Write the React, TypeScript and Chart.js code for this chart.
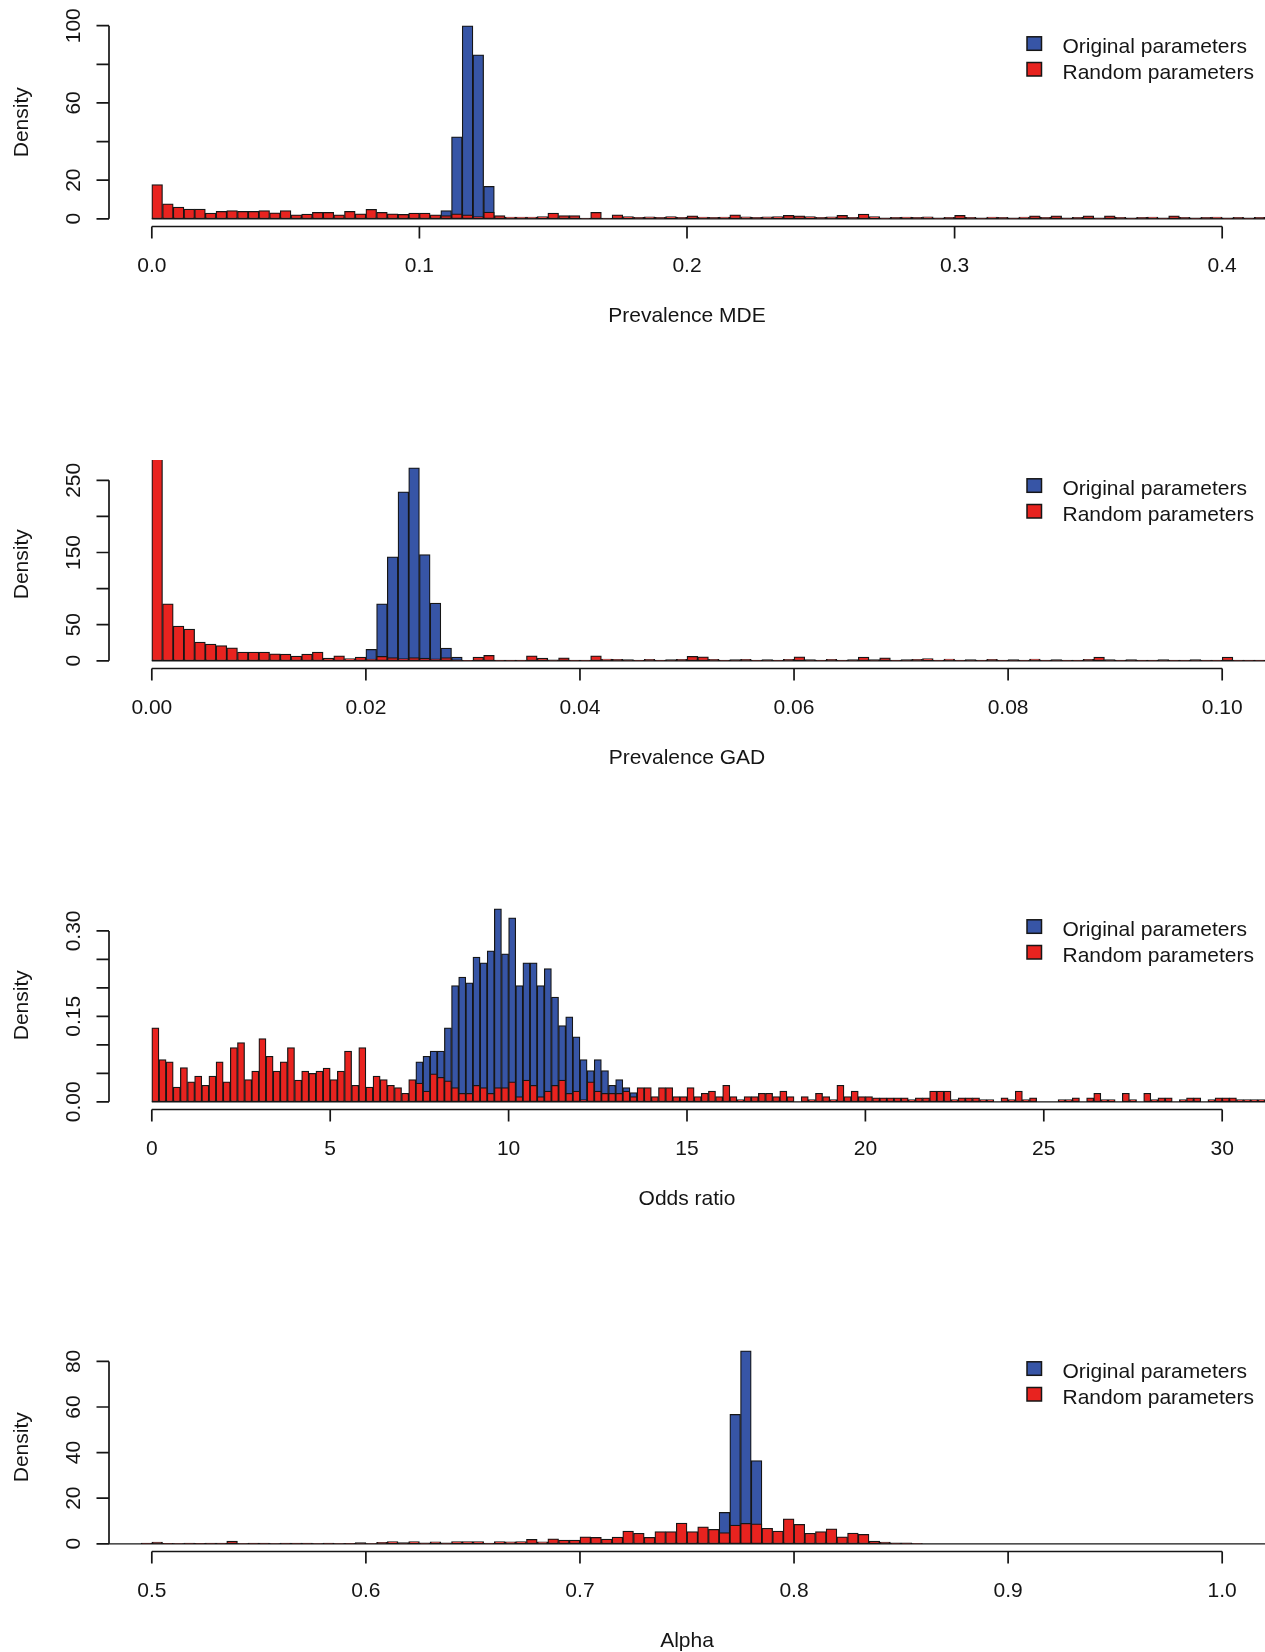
import { useEffect, useRef } from 'react'
import { Chart, BarController, BarElement, LinearScale } from 'chart.js'

Chart.register(BarController, BarElement, LinearScale)

const FONT = '"Liberation Sans", Arial, Helvetica, sans-serif'
const BLUE = '#3755a6'
const RED = '#e8231f'
const EDGE = '#161616'
const INK = '#151515'

const seriesLabels = ['Original parameters', 'Random parameters']

// --- Prevalence MDE (bins of 0.004 from 0) ---
const mdeBinStart = 0
const mdeBinWidth = 0.004
const mdeRandom = [
  17.7, 7.8, 6.1, 5.0, 5.0, 2.9, 3.8, 4.2, 3.8, 3.8, 4.2, 3.1, 4.2, 2.1, 2.4, 3.3, 3.3, 2.1, 3.8, 2.6,
  4.9, 3.3, 2.6, 2.3, 2.9, 2.9, 2.1, 1.7, 2.6, 2.1, 1.2, 3.5, 1.7, 0.9, 0.9, 0.9, 1.2, 2.9, 1.7, 1.7,
  0.3, 3.3, 0.3, 2.1, 1.2, 0.7, 1.0, 0.7, 1.2, 0.7, 1.5, 0.9, 0.7, 0.9, 2.0, 1.0, 0.7, 1.0, 1.2, 1.8,
  1.5, 1.2, 0.7, 1.0, 1.8, 0.7, 2.4, 1.2, 0.5, 0.7, 0.9, 0.7, 1.0, 0.5, 0.7, 1.8, 0.7, 0.5, 0.9, 0.7,
  0.5, 0.9, 1.5, 0.7, 1.5, 0.5, 0.7, 1.5, 0.5, 1.5, 0.7, 0.5, 0.7, 0.9, 0.5, 1.5, 0.7, 0.5, 0.7, 0.9,
  0.5, 0.7, 0.5, 0.7, 0.5,
]
const mdeOriginalFirstBin = 27
const mdeOriginal = [4.3, 42.5, 100, 84.9, 16.8]
const mdeXTicks = [0, 0.1, 0.2, 0.3, 0.4]
const mdeXLabels = ['0.0', '0.1', '0.2', '0.3', '0.4']
const mdeYTicks = [0, 20, 40, 60, 80, 100]
const mdeYLabels = ['0', '20', '', '60', '', '100']

// --- Prevalence GAD (bins of 0.001 from 0) ---
const gadBinStart = 0
const gadBinWidth = 0.001
const gadRandom = [
  290, 79, 48, 44, 26, 23, 21, 18, 12, 12, 12, 9.7, 9.3, 6.5, 9.3, 12, 3.7, 7, 3.2, 5,
  2.3, 6, 4.6, 3.2, 4.6, 3.7, 2.8, 4.6, 1.4, 0.5, 5, 7.4, 1, 1, 1, 7, 3.7, 1.4, 4.2, 1,
  1, 7, 2.3, 2, 1.5, 1, 2, 1, 1.5, 2, 6, 5.5, 2, 1, 1.5, 2, 1, 1.5, 1, 2,
  5.5, 1.5, 1, 2, 1, 1.5, 5, 1.5, 4, 1, 1.5, 2, 3, 1, 2.5, 1, 1.5, 1, 2, 1,
  1.5, 1, 2.5, 1, 1.5, 1, 1, 2, 5, 1.5, 1, 1.5, 1, 1, 1.5, 1, 1, 1.5, 1, 1,
  5, 1, 1, 1,
]
const gadOriginalFirstBin = 20
const gadOriginal = [15.7, 79, 144, 234, 267.5, 147, 80, 17.6, 5]
const gadXTicks = [0, 0.02, 0.04, 0.06, 0.08, 0.1]
const gadXLabels = ['0.00', '0.02', '0.04', '0.06', '0.08', '0.10']
const gadYTicks = [0, 50, 100, 150, 200, 250]
const gadYLabels = ['0', '50', '', '150', '', '250']

// --- Odds ratio (bins of 0.2 from 0) ---
const oddsBinStart = 0
const oddsBinWidth = 0.2
const oddsRandom = [
  0.130, 0.074, 0.070, 0.026, 0.060, 0.035, 0.045, 0.029, 0.045, 0.070, 0.035, 0.095, 0.104, 0.039, 0.054,
  0.111, 0.080, 0.054, 0.070, 0.095, 0.038, 0.054, 0.050, 0.054, 0.059, 0.039, 0.054, 0.089, 0.029, 0.095,
  0.026, 0.045, 0.039, 0.029, 0.025, 0.015, 0.039, 0.033, 0.019, 0.049, 0.043, 0.037, 0.025, 0.015, 0.015,
  0.029, 0.025, 0.015, 0.025, 0.025, 0.035, 0.009, 0.038, 0.029, 0.009, 0.019, 0.029, 0.038, 0.015, 0.019,
  0.004, 0.035, 0.019, 0.015, 0.015, 0.015, 0.019, 0.009, 0.025, 0.025, 0.009, 0.025, 0.025, 0.009, 0.009,
  0.025, 0.009, 0.015, 0.019, 0.009, 0.029, 0.009, 0.004, 0.009, 0.009, 0.015, 0.015, 0.009, 0.019, 0.009,
  0, 0.009, 0.004, 0.015, 0.009, 0.004, 0.029, 0.009, 0.019, 0.009, 0.009, 0.007, 0.007, 0.007, 0.007,
  0.007, 0.004, 0.007, 0.007, 0.019, 0.019, 0.019, 0.004, 0.007, 0.007, 0.007, 0.004, 0.004, 0, 0.007,
  0.004, 0.019, 0.004, 0.007, 0, 0, 0, 0.004, 0.004, 0.007, 0, 0.007, 0.015, 0.004, 0.004,
  0, 0.015, 0.004, 0, 0.015, 0.004, 0.007, 0.007, 0, 0.004, 0.007, 0.007, 0, 0.004, 0.007,
  0.007, 0.007, 0.004, 0.004, 0.004, 0.004,
]
const oddsOriginalFirstBin = 37
const oddsOriginal = [
  0.070, 0.080, 0.089, 0.089, 0.130, 0.204, 0.219, 0.209, 0.254, 0.244, 0.265, 0.339, 0.260, 0.323, 0.204,
  0.244, 0.244, 0.204, 0.234, 0.184, 0.134, 0.149, 0.114, 0.074, 0.055, 0.074, 0.055, 0.029, 0.039, 0.025,
  0.016,
]
const oddsXTicks = [0, 5, 10, 15, 20, 25, 30]
const oddsXLabels = ['0', '5', '10', '15', '20', '25', '30']
const oddsYTicks = [0, 0.05, 0.1, 0.15, 0.2, 0.25, 0.3]
const oddsYLabels = ['0.00', '', '', '0.15', '', '', '0.30']

// --- Alpha (bins of 0.005 from 0.48) ---
const alphaBinStart = 0.48
const alphaBinWidth = 0.005
const alphaRandom = [
  0, 0, 0, 0.3, 0.7, 0.2, 0.1, 0.3, 0.2, 0.3, 0.3, 1.2, 0.1, 0.3, 0.3, 0.1, 0.3, 0.3, 0.3, 0.1,
  0.3, 0.1, 0.2, 0.5, 0.1, 0.6, 1.0, 0.5, 1.0, 0.4, 0.9, 0.4, 1.0, 1.0, 1.0, 0.3, 1.0, 0.8, 1.0, 1.9,
  0.8, 2.2, 1.6, 1.6, 3.0, 2.8, 2.1, 2.9, 5.6, 4.6, 2.8, 5.4, 5.4, 9.1, 5.3, 7.4, 6.3, 4.9, 8.2, 9.0,
  8.8, 6.8, 5.6, 10.9, 8.5, 4.6, 5.4, 6.6, 3.1, 4.7, 4.1, 1.2, 0.7, 0.4, 0.4, 0.1, 0, 0, 0, 0,
  0, 0, 0, 0, 0, 0, 0, 0, 0, 0, 0, 0, 0, 0, 0, 0, 0, 0, 0, 0,
  0, 0, 0, 0, 0, 0, 0, 0,
]
const alphaOriginalFirstBin = 57
const alphaOriginal = [13.8, 56.8, 84.7, 36.5]
const alphaXTicks = [0.5, 0.6, 0.7, 0.8, 0.9, 1.0]
const alphaXLabels = ['0.5', '0.6', '0.7', '0.8', '0.9', '1.0']
const alphaYTicks = [0, 20, 40, 60, 80]
const alphaYLabels = ['0', '20', '40', '60', '80']

type PanelSpec = {
  title: string
  binStart: number
  binWidth: number
  random: number[]
  originalFirstBin: number
  original: number[]
  xTicks: number[]
  xLabels: string[]
  yTicks: number[]
  yLabels: string[]
}

const panels: PanelSpec[] = [
  {
    title: 'Prevalence MDE', binStart: mdeBinStart, binWidth: mdeBinWidth, random: mdeRandom,
    originalFirstBin: mdeOriginalFirstBin, original: mdeOriginal,
    xTicks: mdeXTicks, xLabels: mdeXLabels, yTicks: mdeYTicks, yLabels: mdeYLabels,
  },
  {
    title: 'Prevalence GAD', binStart: gadBinStart, binWidth: gadBinWidth, random: gadRandom,
    originalFirstBin: gadOriginalFirstBin, original: gadOriginal,
    xTicks: gadXTicks, xLabels: gadXLabels, yTicks: gadYTicks, yLabels: gadYLabels,
  },
  {
    title: 'Odds ratio', binStart: oddsBinStart, binWidth: oddsBinWidth, random: oddsRandom,
    originalFirstBin: oddsOriginalFirstBin, original: oddsOriginal,
    xTicks: oddsXTicks, xLabels: oddsXLabels, yTicks: oddsYTicks, yLabels: oddsYLabels,
  },
  {
    title: 'Alpha', binStart: alphaBinStart, binWidth: alphaBinWidth, random: alphaRandom,
    originalFirstBin: alphaOriginalFirstBin, original: alphaOriginal,
    xTicks: alphaXTicks, xLabels: alphaXLabels, yTicks: alphaYTicks, yLabels: alphaYLabels,
  },
]

// same expression for both series, so shared bins get identical x values
const binCenter = (p: PanelSpec, k: number) => +(p.binStart + (k + 0.5) * p.binWidth).toFixed(10)

const PANEL_STEP = 441.5
const PANEL_H = 441
const AREA_TOP = 18
const AREA_BOTTOM = 226.5
const AREA_LEFT = 109

// R-style axes, labels and legend drawn from the scales
const makeFramePlugin = (p: PanelSpec) => ({
  id: 'rFrame',
  afterDatasetsDraw(chart: any) {
    const { ctx, chartArea: a } = chart
    const xs = chart.scales.x
    const ys = chart.scales.y
    const y0 = ys.getPixelForValue(0)
    const left = xs.getPixelForValue(p.binStart)
    const right = xs.getPixelForValue(p.binStart + p.random.length * p.binWidth)
    ctx.save()
    ctx.beginPath()
    ctx.rect(a.left, a.top, a.right - a.left, a.bottom - a.top)
    ctx.clip()
    ctx.strokeStyle = EDGE
    ctx.lineWidth = 1.3
    ctx.beginPath()
    ctx.moveTo(left, y0)
    ctx.lineTo(right, y0)
    ctx.stroke()
    ctx.restore()
  },
  afterDraw(chart: any) {
    const { ctx, chartArea: a } = chart
    const xs = chart.scales.x
    const ys = chart.scales.y
    ctx.save()
    ctx.strokeStyle = EDGE
    ctx.lineWidth = 1.7
    ctx.fillStyle = INK
    ctx.font = `21px ${FONT}`

    // x axis
    const xPix = p.xTicks.map((v) => xs.getPixelForValue(v))
    ctx.beginPath()
    ctx.moveTo(xPix[0], a.bottom)
    ctx.lineTo(xPix[xPix.length - 1], a.bottom)
    xPix.forEach((px) => {
      ctx.moveTo(px, a.bottom)
      ctx.lineTo(px, a.bottom + 12)
    })
    ctx.stroke()
    ctx.textAlign = 'center'
    ctx.textBaseline = 'alphabetic'
    xPix.forEach((px, i) => ctx.fillText(p.xLabels[i], px, a.bottom + 45))
    ctx.fillText(p.title, (a.left + a.right) / 2, a.bottom + 95)

    // y axis
    const yPix = p.yTicks.map((v) => ys.getPixelForValue(v))
    ctx.beginPath()
    ctx.moveTo(a.left, yPix[0])
    ctx.lineTo(a.left, yPix[yPix.length - 1])
    yPix.forEach((py) => {
      ctx.moveTo(a.left, py)
      ctx.lineTo(a.left - 12.5, py)
    })
    ctx.stroke()
    yPix.forEach((py, i) => {
      if (!p.yLabels[i]) return
      ctx.save()
      ctx.translate(a.left - 29, py)
      ctx.rotate(-Math.PI / 2)
      ctx.fillText(p.yLabels[i], 0, 0)
      ctx.restore()
    })
    ctx.save()
    ctx.translate(a.left - 81.5, (a.top + a.bottom) / 2)
    ctx.rotate(-Math.PI / 2)
    ctx.fillText('Density', 0, 0)
    ctx.restore()

    // legend
    const lx = a.right - 238
    chart.data.datasets.forEach((ds: any, i: number) => {
      const base = a.top + 35.3 + i * 25.7
      ctx.fillStyle = ds.backgroundColor
      ctx.fillRect(lx, base - 16.5, 14.5, 13.5)
      ctx.lineWidth = 1.5
      ctx.strokeRect(lx, base - 16.5, 14.5, 13.5)
      ctx.fillStyle = INK
      ctx.textAlign = 'left'
      ctx.fillText(ds.label, lx + 35.5, base)
    })
    ctx.restore()
  },
})

const HistPanel = ({ spec, height }: { spec: PanelSpec; height: number }) => {
  const canvasRef = useRef<HTMLCanvasElement | null>(null)

  useEffect(() => {
    const canvas = canvasRef.current
    if (!canvas) return
    const x0 = spec.xTicks[0]
    const x1 = spec.xTicks[spec.xTicks.length - 1]
    const xPad = 0.04 * (x1 - x0)
    const top = Math.max(...spec.original)

    const chart = new Chart(canvas, {
      type: 'bar',
      data: {
        datasets: [
          {
            label: seriesLabels[0],
            data: spec.original.map((v, i) => ({ x: binCenter(spec, spec.originalFirstBin + i), y: v })),
            backgroundColor: BLUE,
            order: 1,
          },
          {
            label: seriesLabels[1],
            data: spec.random.map((v, i) => ({ x: binCenter(spec, i), y: v })),
            backgroundColor: RED,
            order: 0,
          },
        ],
      },
      options: {
        responsive: false,
        animation: false,
        devicePixelRatio: 1,
        layout: {
          padding: { left: AREA_LEFT, right: 0, top: AREA_TOP, bottom: height - AREA_BOTTOM },
        },
        datasets: {
          bar: {
            grouped: false,
            barPercentage: 1,
            categoryPercentage: 1,
            borderWidth: 1.25,
            borderColor: EDGE,
            borderSkipped: false,
            clip: 0,
          },
        },
        scales: {
          x: { type: 'linear', offset: false, min: x0 - xPad, max: x1 + xPad, display: false },
          y: { type: 'linear', min: -0.04 * top, max: 1.04 * top, display: false },
        },
        plugins: {
          legend: { display: false },
          tooltip: { enabled: false },
        },
      } as any,
      plugins: [makeFramePlugin(spec)],
    })

    return () => {
      chart.destroy()
    }
  }, [spec, height])

  return <canvas ref={canvasRef} width={1265} height={height} style={{ display: 'block', width: 1265, height }} />
}

export default function App() {
  useEffect(() => {
    document.body.style.margin = '0'
  }, [])

  return (
    <div style={{ position: 'relative', width: 1265, height: 1652, overflow: 'hidden', background: '#fff' }}>
      {panels.map((spec, i) => {
        const top = Math.round(i * PANEL_STEP)
        const h = Math.min(PANEL_H, 1652 - top)
        return (
          <div key={spec.title} style={{ position: 'absolute', left: 0, top }}>
            <HistPanel spec={spec} height={h} />
          </div>
        )
      })}
    </div>
  )
}
